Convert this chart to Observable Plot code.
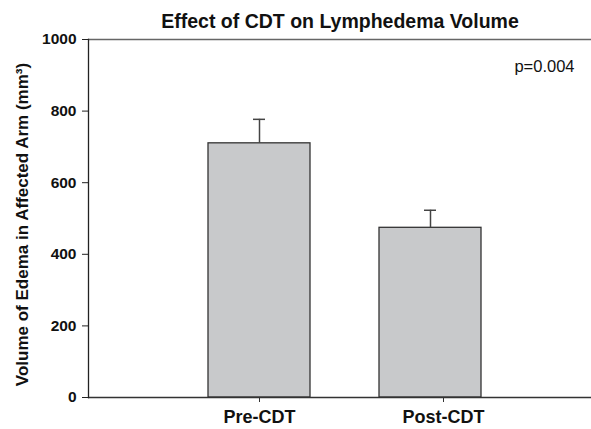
<!DOCTYPE html>
<html>
<head>
<meta charset="utf-8">
<script src="https://cdn.jsdelivr.net/npm/d3@7"></script>
<script src="https://cdn.jsdelivr.net/npm/@observablehq/plot@0.6"></script>
<style>
  html, body { margin: 0; padding: 0; background: #fff; }
</style>
</head>
<body>
<div id="chart"></div>
<script>
const categories = ["Pre-CDT", "Post-CDT"];
const means = [710, 474];
const upperErrors = [777, 523];
const yTicks = [0, 200, 400, 600, 800, 1000];
const titleText = "Effect of CDT on Lymphedema Volume";
const yLabel = "Volume of Edema in Affected Arm (mm³)";
const pText = "p=0.004";

const data = categories.map((c, i) => ({cat: c, mean: means[i], upper: upperErrors[i]}));

const chart = Plot.plot({
  width: 591,
  height: 429,
  marginTop: 39,
  marginBottom: 32,
  marginLeft: 88,
  marginRight: 0,
  style: {fontFamily: "Liberation Sans, Arial, sans-serif", fontWeight: "bold", color: "#111", background: "#fff"},
  x: {type: "band", domain: categories, range: [88, 601], paddingInner: 0.404, paddingOuter: 0.702},
  y: {domain: [0, 1000]},
  marks: [
    Plot.barY(data, {x: "cat", y: "mean", fill: "#c8c9cb", stroke: "#333", strokeWidth: 1.3}),
    Plot.ruleX(data, {x: "cat", y1: "mean", y2: "upper", stroke: "#444", strokeWidth: 1.5}),
    Plot.tickY(data, {x: "cat", y: "upper", stroke: "#444", strokeWidth: 1.5, insetLeft: 45, insetRight: 45}),
    Plot.ruleY([1000], {stroke: "#666", strokeWidth: 1.5}),
    Plot.ruleY([0], {stroke: "#333", strokeWidth: 1.3}),
    Plot.frame({anchor: "left", stroke: "#222", strokeWidth: 1.3}),
    Plot.axisY({ticks: yTicks, tickFormat: d => String(d), tickSize: 6, tickPadding: 6, fontSize: 15.5, fontWeight: "bold", label: null, stroke: "#222"}),
    Plot.axisX({ticks: ["Pre-CDT"], tickSize: 5, tickPadding: 8, fontSize: 18, fontWeight: "bold", label: null, stroke: "#333"}),
    Plot.axisX({ticks: ["Post-CDT"], tickSize: 5, tickPadding: 8, fontSize: 18, fontWeight: "bold", label: null, stroke: "#333", dx: 13}),
    Plot.text([titleText], {frameAnchor: "top", dy: -18, lineAnchor: "middle", fontSize: 19.5, fontWeight: "bold", fill: "#111"}),
    Plot.text([yLabel], {frameAnchor: "left", dx: -66, dy: 6, rotate: -90, textAnchor: "middle", lineAnchor: "middle", fontSize: 17, fontWeight: "bold", fill: "#111"}),
    Plot.text([pText], {frameAnchor: "top-right", dx: -17, dy: 27, textAnchor: "end", lineAnchor: "middle", fontSize: 16.5, fontWeight: "normal", fill: "#111"})
  ]
});
document.getElementById("chart").appendChild(chart);
</script>
</body>
</html>
